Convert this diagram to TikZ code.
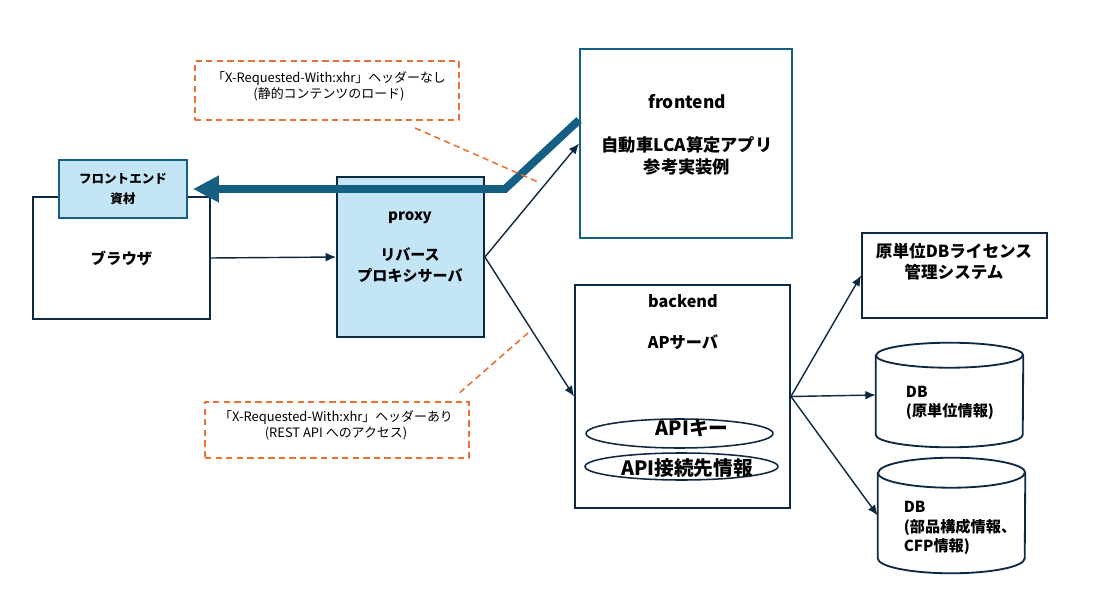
\documentclass[tikz,border=0pt]{standalone}
\usepackage{fontspec}
\setmainfont{Noto Sans CJK JP}
\usetikzlibrary{arrows.meta,shapes.geometric}
\definecolor{apnavy}{HTML}{0E2841}
\definecolor{apteal}{HTML}{156082}
\definecolor{apsky}{HTML}{C4E5F6}
\definecolor{aporange}{HTML}{E97132}
\newlength\px
\setlength\px{0.025cm}
\newcommand\fsz[2]{\fontsize{#1}{#2}\selectfont}
\tikzset{
  hostbox/.style={rectangle,draw=apnavy,fill=white,line width=1.3pt,inner sep=0pt},
  proxybox/.style={rectangle,draw=apnavy,fill=apsky,line width=1.3pt,inner sep=0pt},
  assetbox/.style={rectangle,draw=apteal,fill=apsky,line width=1.3pt,inner sep=0pt,font=\bfseries\fsz{8.9}{14.2},align=center},
  appbox/.style={rectangle,draw=apteal,fill=white,line width=1.4pt,inner sep=0pt},
  keyoval/.style={ellipse,draw=apnavy,line width=1.1pt,inner sep=0pt},
  dbspot/.style={rectangle,inner sep=0pt},
  dbline/.style={draw=apnavy,fill=white,line width=1.3pt},
  boxtext/.style={font=\bfseries\fsz{10.7}{15},text=black,align=center,inner sep=0pt},
  link/.style={-{Latex[length=2.6mm,width=2.2mm]},draw=apnavy,line width=1pt},
  pageflow/.style={-{Triangle[length=0.65cm,width=0.63cm]},draw=apteal,line width=5.6pt},
  notebox/.style={rectangle,draw=aporange,dash pattern=on 4.5pt off 3pt,line width=1.1pt,inner sep=0pt},
  noteline/.style={draw=aporange,dash pattern=on 4.5pt off 3pt,line width=1.1pt},
  notetext/.style={font=\fsz{9.2}{11.4},text=black,align=center,inner sep=0pt},
}
\begin{document}
\begin{tikzpicture}[x=0.025cm,y=-0.025cm]
  \useasboundingbox (0,0) rectangle (1097,616);

  % ---------------- browser side ----------------
  \node[hostbox,minimum width=177\px,minimum height=122\px,font=\bfseries\fsz{10.9}{15}] (browser) at (121.5,258) {ブラウザ};
  \node[assetbox,minimum width=128\px,minimum height=58\px] (assets) at (123,189) {フロントエンド\\資材};

  % ---------------- proxy ----------------
  \node[proxybox,minimum width=147\px,minimum height=160\px] (proxy) at (410.5,257) {};
  \node[boxtext] (proxytxt) at (410,247.5) {proxy\\[13.5pt]リバース\\プロキシサーバ};

  % ---------------- frontend / backend ----------------
  \node[appbox,minimum width=212\px,minimum height=189\px] (fe) at (686,143.5) {};
  \node[boxtext,font=\bfseries\fsz{12.3}{15}] (fetxt) at (687,134.5) {frontend\\[16pt]自動車LCA算定アプリ\\参考実装例};

  \node[hostbox,minimum width=215\px,minimum height=223\px] (be) at (682.5,396.5) {};
  \node[boxtext,font=\bfseries\fsz{11.5}{15}] (betxt) at (683,322.5) {backend\\[14pt]APサーバ};
  \node[keyoval,minimum width=187\px,minimum height=29\px] (apikey) at (679.5,433.5) {};
  \node[boxtext,font=\bfseries\fsz{14}{16}] (apikeytxt) at (692,428) {APIキー};
  \node[keyoval,minimum width=193\px,minimum height=27\px] (apidest) at (681.5,466.5) {};
  \node[boxtext,font=\bfseries\fsz{14}{16}] (apidesttxt) at (687,468) {API接続先情報};

  % ---------------- license / databases ----------------
  \node[hostbox,minimum width=185\px,minimum height=85\px] (lic) at (954.5,275.5) {};
  \node[boxtext,font=\bfseries\fsz{11.8}{15}] (lictxt) at (954,262) {原単位DBライセンス\\管理システム};

  \node[dbspot,minimum width=147\px,minimum height=104\px] (db1) at (949.5,395) {};
  \draw[dbline] ([yshift=-12.5\px]db1.north west) -- ([yshift=12.5\px]db1.south west)
    arc[start angle=180,end angle=360,x radius=73.5\px,y radius=12.5\px]
    -- ([yshift=-12.5\px]db1.north east)
    arc[start angle=0,end angle=180,x radius=73.5\px,y radius=12.5\px] -- cycle;
  \draw[dbline,fill=none] ([yshift=-12.5\px]db1.north west)
    arc[start angle=180,end angle=360,x radius=73.5\px,y radius=12.5\px];
  \node[boxtext,align=left,font=\bfseries\fsz{10.8}{14}] (db1txt) at (950,403) {DB\\(原単位情報)};

  \node[dbspot,minimum width=147\px,minimum height=115\px] (db2) at (951.5,515.5) {};
  \draw[dbline] ([yshift=-15\px]db2.north west) -- ([yshift=15\px]db2.south west)
    arc[start angle=180,end angle=360,x radius=73.5\px,y radius=15\px]
    -- ([yshift=-15\px]db2.north east)
    arc[start angle=0,end angle=180,x radius=73.5\px,y radius=15\px] -- cycle;
  \draw[dbline,fill=none] ([yshift=-15\px]db2.north west)
    arc[start angle=180,end angle=360,x radius=73.5\px,y radius=15\px];
  \node[boxtext,align=left,font=\bfseries\fsz{10.8}{14}] (db2txt) at (960,528) {DB\\(部品構成情報、\\CFP情報)};

  % ---------------- connectors ----------------
  \draw[link] (browser.east) -- (proxy.west);
  \draw[link] (proxy.east) -- (fe.west);
  \draw[link] (proxy.east) -- (be.west);
  \draw[link] (be.east) -- (lic.west);
  \draw[link] (be.east) -- (db1.west);
  \draw[link] (be.east) -- (db2.west);
  \draw[pageflow] ([yshift=23.5\px]fe.west) -- (505,189) -- ([xshift=5\px]assets.east);

  % ---------------- notes ----------------
  \node[notebox,minimum width=264\px,minimum height=59\px] (note1) at (327,90.5) {};
  \node[notetext] (note1txt) at (329,86) {「X-Requested-With:xhr」ヘッダーなし\\(静的コンテンツのロード)};
  \coordinate (lead1a) at (415,128);
  \coordinate (lead1b) at (538,182);
  \draw[noteline] (lead1a) -- (lead1b);

  \node[notebox,minimum width=264\px,minimum height=56\px] (note2) at (337,430) {};
  \node[notetext] (note2txt) at (336,425) {「X-Requested-With:xhr」ヘッダーあり\\(REST API へのアクセス)};
  \coordinate (lead2a) at (528,333);
  \coordinate (lead2b) at (457,395);
  \draw[noteline] (lead2a) -- (lead2b);
\end{tikzpicture}
\end{document}
